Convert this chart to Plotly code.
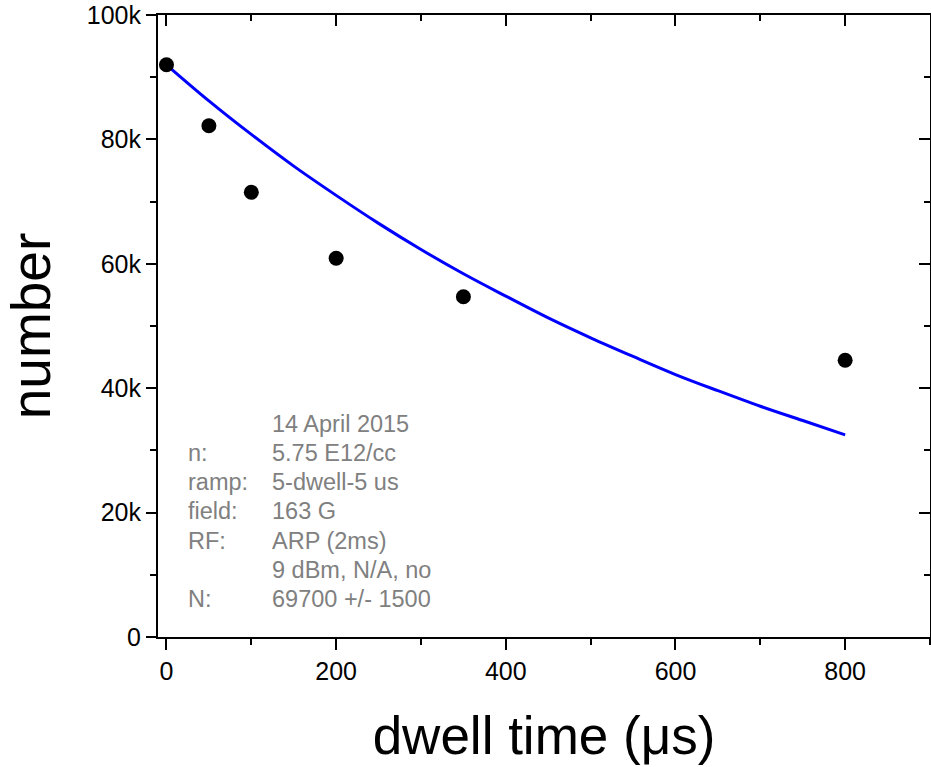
import plotly.graph_objects as go

# measured data
dwell_us = [0, 50, 100, 200, 350, 800]
number = [92000, 82200, 71500, 60900, 54700, 44500]

# fit curve
fit_x = [0, 50, 100, 150, 200, 250, 300, 350, 400, 450, 500, 550, 600, 650, 700, 750, 800]
fit_y = [92000, 86200, 80800, 75700, 71000, 66500, 62300, 58400, 54800, 51300,
         48100, 45100, 42200, 39600, 37100, 34800, 32500]

x_tickvals = [0, 200, 400, 600, 800]
x_ticktext = ["0", "200", "400", "600", "800"]
y_tickvals = [0, 20000, 40000, 60000, 80000, 100000]
y_ticktext = ["0", "20k", "40k", "60k", "80k", "100k"]

info_labels = ["", "n:", "ramp:", "field:", "RF:", "", "N:"]
info_values = ["14 April 2015", "5.75 E12/cc", "5-dwell-5 us", "163 G",
               "ARP (2ms)", "9 dBm, N/A, no", "69700 +/- 1500"]

FONT = "Liberation Sans, Arial, Helvetica, sans-serif"
XR = [-10, 900]
YR = [0, 100000]

fig = go.Figure()
fig.add_trace(go.Scatter(x=fit_x, y=fit_y, mode="lines",
                         line=dict(color="#0000FF", width=3, shape="spline"),
                         showlegend=False, hoverinfo="skip", cliponaxis=False))
fig.add_trace(go.Scatter(x=dwell_us, y=number, mode="markers",
                         marker=dict(color="black", size=15),
                         showlegend=False, cliponaxis=False))
# helper trace to activate mirror axes
fig.add_trace(go.Scatter(x=[None], y=[None], xaxis="x2", yaxis="y2",
                         showlegend=False, hoverinfo="skip"))

axis_common = dict(showgrid=False, zeroline=False, showline=True,
                   linecolor="black", linewidth=2, tickcolor="black",
                   tickwidth=2, automargin=False)

fig.update_layout(
    width=931, height=767,
    margin=dict(l=158, r=1, t=15, b=130, autoexpand=False),
    paper_bgcolor="white", plot_bgcolor="white",
    font=dict(family=FONT, color="black"),
    xaxis=dict(range=XR, tickmode="array", tickvals=x_tickvals, ticktext=x_ticktext,
               ticks="outside", ticklen=11, ticklabeloverflow="allow",
               minor=dict(tickmode="linear", tick0=0, dtick=100, ticks="outside",
                          ticklen=6, tickwidth=2, tickcolor="black"),
               tickfont=dict(size=25, family=FONT),
               title=dict(text="dwell time (\u03bcs)", font=dict(size=53, family=FONT),
                          standoff=33),
               **axis_common),
    yaxis=dict(range=YR, tickmode="array", tickvals=y_tickvals, ticktext=y_ticktext,
               ticks="outside", ticklen=10, ticklabeloverflow="allow",
               minor=dict(tickmode="linear", tick0=0, dtick=10000, ticks="outside",
                          ticklen=6, tickwidth=2, tickcolor="black"),
               tickfont=dict(size=25, family=FONT),
               title=dict(text="number", font=dict(size=55, family=FONT), standoff=25),
               **axis_common),
    xaxis2=dict(range=XR, overlaying="x", side="top", tickmode="array",
                tickvals=x_tickvals, showticklabels=False, ticks="inside", ticklen=11,
                minor=dict(tickmode="linear", tick0=0, dtick=100, ticks="inside",
                           ticklen=6, tickwidth=2, tickcolor="black"),
                **axis_common),
    yaxis2=dict(range=YR, overlaying="y", side="right", tickmode="array",
                tickvals=y_tickvals, showticklabels=False, ticks="inside", ticklen=11,
                minor=dict(tickmode="linear", tick0=0, dtick=10000, ticks="inside",
                           ticklen=6, tickwidth=2, tickcolor="black"),
                **axis_common),
)

row_y = [34200, 29600, 24900, 20300, 15500, 10800, 6100]
for lab, val, yy in zip(info_labels, info_values, row_y):
    if lab:
        fig.add_annotation(x=22.5, y=yy, xref="x", yref="y", text=lab, showarrow=False,
                           xanchor="left", yanchor="middle",
                           font=dict(size=23.5, color="#808080", family=FONT))
    fig.add_annotation(x=121.5, y=yy, xref="x", yref="y", text=val, showarrow=False,
                       xanchor="left", yanchor="middle",
                       font=dict(size=23.5, color="#808080", family=FONT))

# remove the page's default 8px body margin so the figure fills the window
fig.write_html("out.html",
               config={"displayModeBar": False},
               post_script="document.body.style.margin='0';"
                           "document.body.style.overflow='hidden';")
